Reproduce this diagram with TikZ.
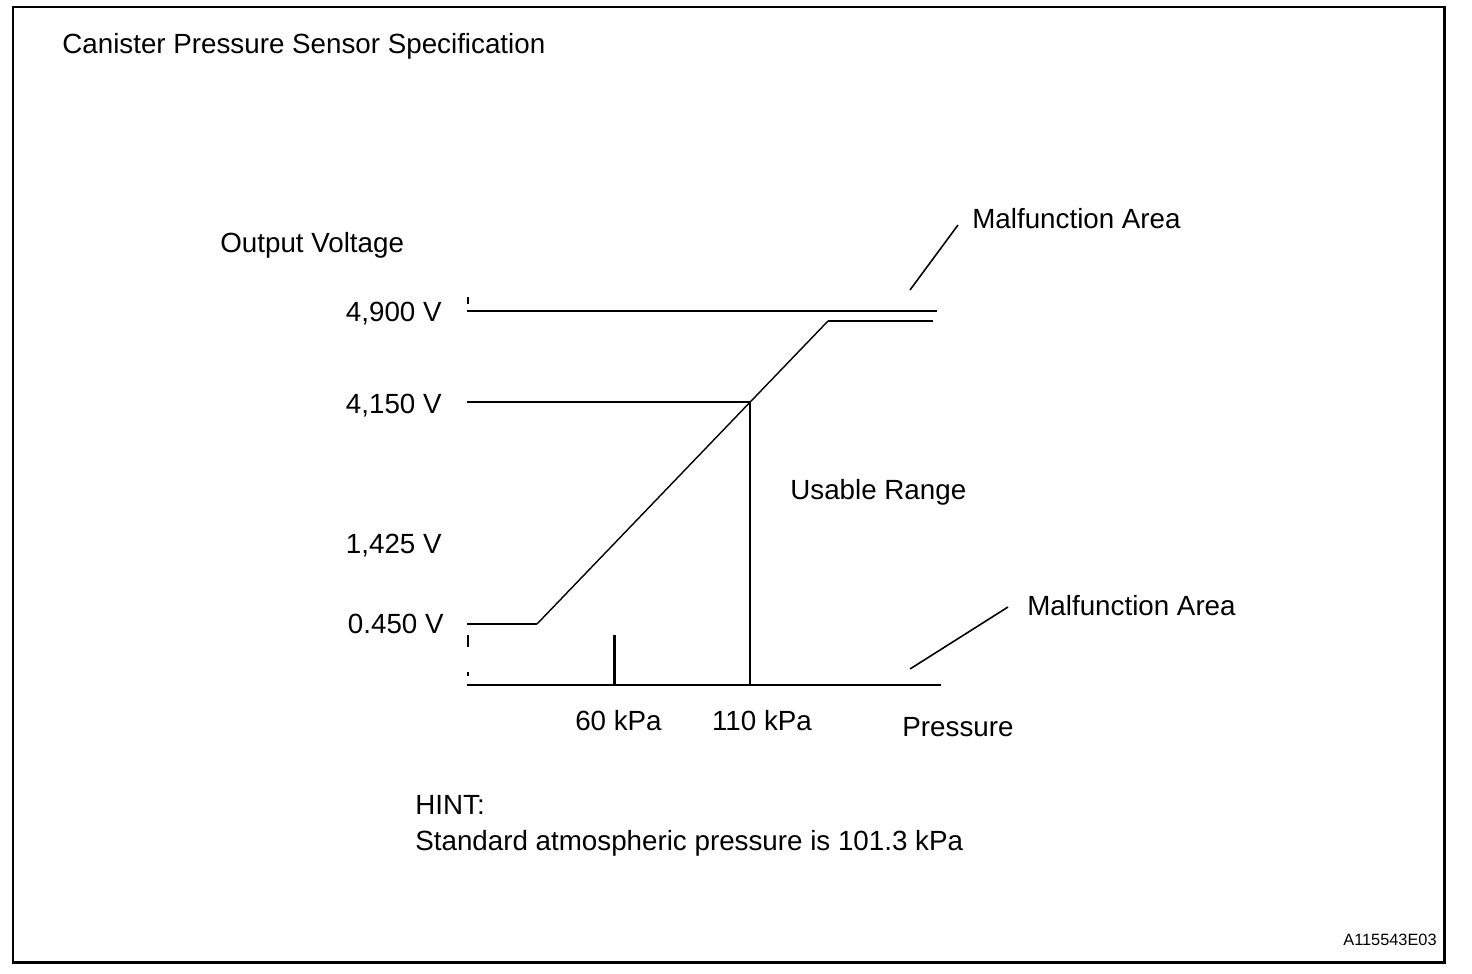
\documentclass[tikz,border=0pt]{standalone}
\usepackage{fontspec}
\setmainfont{Liberation Sans}
\tikzset{
  lbl/.style={inner sep=0, text height=11.3pt, text depth=0pt, font=\fontsize{15.8}{19}\selectfont},
  axisline/.style={line width=1.4pt},
  leader/.style={line width=0.9pt},
}

\begin{document}
\begin{tikzpicture}[x=0.02cm, y=-0.02cm]
  \useasboundingbox (0,0) rectangle (1472,974);
  \draw[line width=1.7pt] (13,7) rectangle (1444,962);

  \node[lbl, anchor=west] at (62,44) (title) {Canister Pressure Sensor Specification};
  \node[lbl, anchor=west] at (220,243) (ylabel) {Output Voltage};

  % voltage labels
  \node[lbl, anchor=east] at (442,312) (v4900) {4,900 V};
  \node[lbl, anchor=east] at (442,404) (v4150) {4,150 V};
  \node[lbl, anchor=east] at (442,544) (v1425) {1,425 V};
  \node[lbl, anchor=east] at (444,624) (v0450) {0.450 V};

  % axes
  \foreach \a/\b in {297/304, 635/647, 672/676} {
    \draw[line width=1.2pt] (468,\a) -- (468,\b);
  }
  \draw[axisline] (467,685) -- (941,685);
  \draw[axisline] (467,311) -- (937,311);
  \draw[axisline] (467,402) -- (750,402);
  \draw[axisline] (750,402) -- (750,685);
  \draw[line width=2.2pt] (614.5,635) -- (614.5,685);

  % sensor output
  \coordinate (lowKnee) at (537,624);
  \coordinate (highKnee) at (828,321);
  \draw[axisline] (467,624) -- (lowKnee);
  \draw[line width=0.8pt] (lowKnee) -- (highKnee);
  \draw[axisline] (highKnee) -- (933,321);

  \node[lbl, anchor=center] at (618.5,721) (p60) {60 kPa};
  \node[lbl, anchor=center] at (762,721) (p110) {110 kPa};
  \node[lbl, anchor=center] at (958,727) (xlabel) {Pressure};
  \node[lbl, anchor=west] at (790,490) (usable) {Usable Range};

  % malfunction areas
  \node[lbl, anchor=west] at (972,219) (mfTop) {Malfunction Area};
  \node[lbl, anchor=west] at (1027,606) (mfLow) {Malfunction Area};
  \coordinate (mfTopA) at (958,225);
  \coordinate (mfTopB) at (910,290);
  \coordinate (mfLowA) at (1008,607);
  \coordinate (mfLowB) at (910,669);
  \draw[leader] (mfTopA) -- (mfTopB);
  \draw[leader] (mfLowA) -- (mfLowB);

  \node[lbl, anchor=west] at (415,805) (hint) {HINT:};
  \node[lbl, anchor=west] at (415,841) (hintText) {Standard atmospheric pressure is 101.3 kPa};
  \node[inner sep=0, text height=6.6pt, text depth=0pt, font=\fontsize{9.3}{11}\selectfont, anchor=east] at (1437,940) (code) {A115543E03};
\end{tikzpicture}
\end{document}
